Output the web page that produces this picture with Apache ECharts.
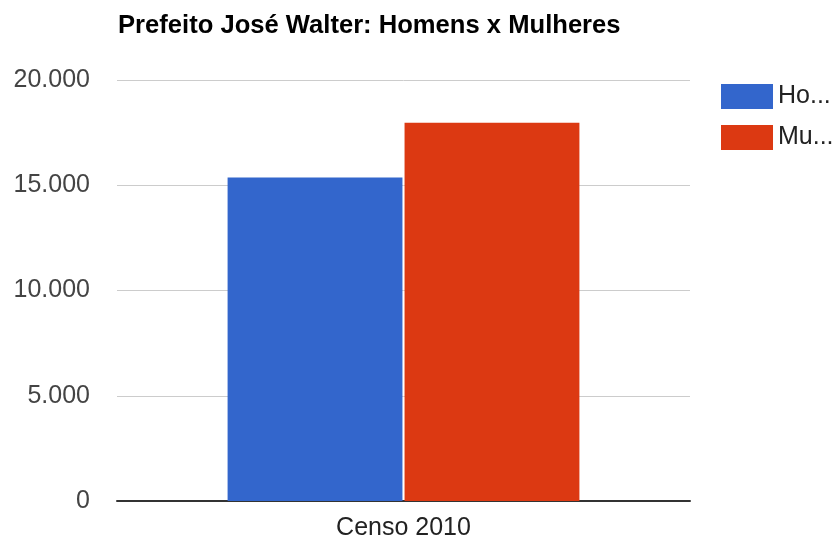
<!DOCTYPE html>
<html>
<head>
<meta charset="utf-8">
<script src="https://cdn.jsdelivr.net/npm/echarts@6/dist/echarts.min.js"></script>
<style>html,body{margin:0;padding:0;background:#fff}#c{width:836px;height:543px}</style>
</head>
<body>
<div id="c"></div>
<script>
const categories = ['Censo 2010'];
const seriesNames = ['Homens', 'Mulheres'];
const homens = [15370];
const mulheres = [17970];
const yTicks = [0, 5000, 10000, 15000, 20000];

const chart = echarts.init(document.getElementById('c'));
chart.setOption({
  animation: false,
  title: {
    text: 'Prefeito José Walter: Homens x Mulheres',
    left: 113, top: 8,
    textStyle: { fontFamily: 'Liberation Sans', fontWeight: 'bold', fontSize: 25.6, color: '#000' }
  },
  legend: {
    orient: 'vertical', left: 716, top: 79,
    itemWidth: 52, itemHeight: 25, itemGap: 16,
    icon: 'rect',
    formatter: n => n.slice(0, 2) + '...',
    textStyle: { fontFamily: 'Liberation Sans', fontSize: 25, color: '#222', padding: [0, 0, 0, 0] },
    data: seriesNames
  },
  grid: { left: 117, right: 146, top: 80, bottom: 42 },
  xAxis: {
    type: 'category', data: categories,
    axisLine: { lineStyle: { color: '#333', width: 2 } },
    axisTick: { show: false },
    axisLabel: { fontFamily: 'Liberation Sans', fontSize: 25, color: '#222', margin: 15 }
  },
  yAxis: {
    type: 'value', min: yTicks[0], max: yTicks[yTicks.length - 1], interval: 5000,
    axisLine: { show: false }, axisTick: { show: false },
    splitLine: { lineStyle: { color: '#ccc', width: 1 } },
    axisLabel: {
      fontFamily: 'Liberation Sans', fontSize: 25, color: '#444', margin: 27,
      formatter: v => v.toLocaleString('pt-BR').replace(/,/g, '.')
    }
  },
  series: [
    { name: seriesNames[0], type: 'bar', data: homens, barGap: '1.2%', barCategoryGap: '38.6%',
      itemStyle: { color: '#3366cc' } },
    { name: seriesNames[1], type: 'bar', data: mulheres,
      itemStyle: { color: '#dc3912' } }
  ]
});
</script>
</body>
</html>
